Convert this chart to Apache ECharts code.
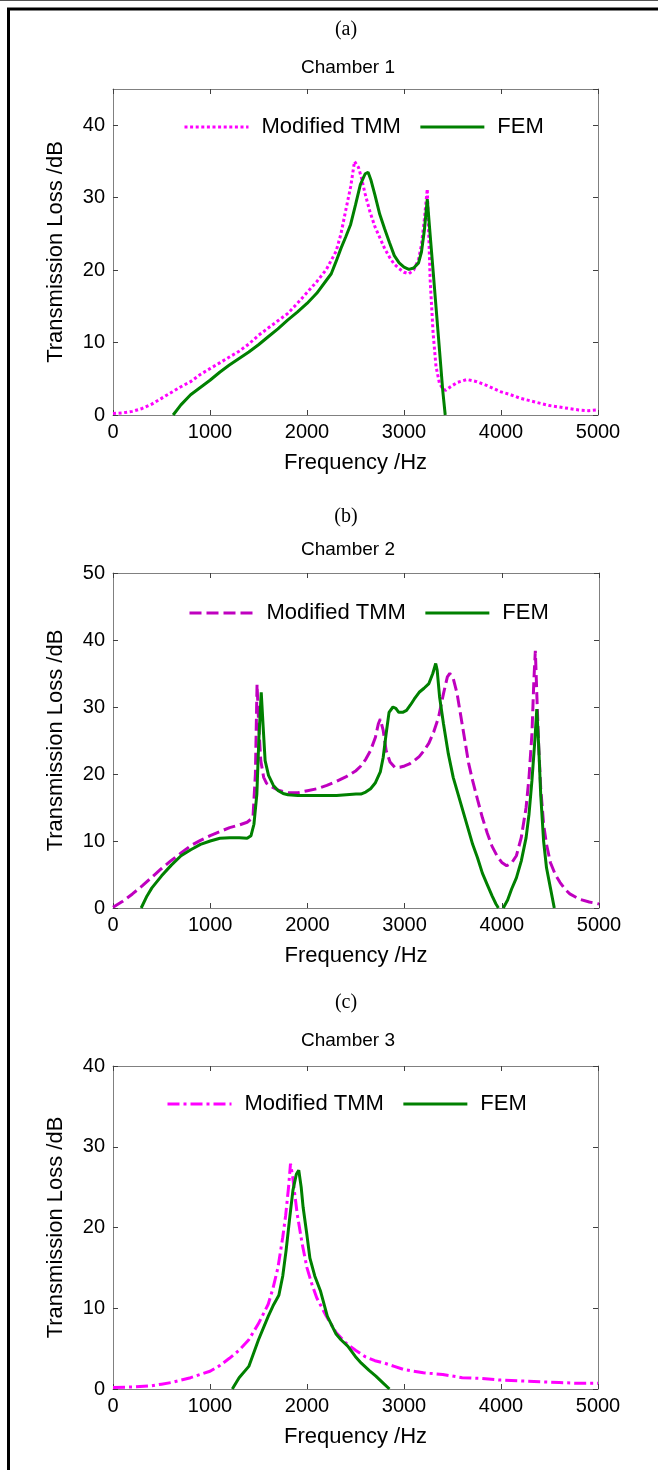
<!DOCTYPE html>
<html><head><meta charset="utf-8">
<script src="https://cdn.jsdelivr.net/npm/echarts@6/dist/echarts.min.js"></script>
<style>html,body{margin:0;padding:0;background:#fff}#c{width:658px;height:1470px}</style>
</head><body><div id="c"></div>
<script>
// ---------- DATA ----------
const xTicks = [0, 1000, 2000, 3000, 4000, 5000];
const panelLetters = ['(a)', '(b)', '(c)'];
const panelTitles = ['Chamber 1', 'Chamber 2', 'Chamber 3'];
const yMax = [45, 50, 40];

// (a) Chamber 1
const a_tmm_f = [0,100,200,300,400,500,600,700,800,900,1000,1100,1200,1300,1400,1500,1600,1700,1800,1900,2000,2100,2200,2300,2350,2400,2450,2490,2530,2560,2600,2650,2700,2750,2800,2850,2900,2950,3000,3050,3100,3150,3180,3210,3240,3255,3270,3300,3330,3365,3400,3430,3480,3550,3650,3750,3850,4000,4100,4200,4350,4500,4650,4800,4900,5000];
const a_tmm_tl = [0.2,0.3,0.5,0.9,1.5,2.3,3.1,3.9,4.6,5.6,6.4,7.2,8.0,8.8,9.8,11.0,12.0,13.0,14.0,15.4,16.9,18.4,20.1,22.6,25.0,28.3,31.5,35.0,34.2,32.8,30.5,28.0,26.0,24.5,23.0,21.8,20.8,20.2,19.7,19.5,20.0,21.5,23.5,27.0,31.2,25.0,18.6,11.3,6.7,4.4,3.6,3.4,3.9,4.5,4.9,4.6,4.1,3.2,2.8,2.3,1.8,1.3,1.0,0.7,0.6,0.7];
const a_fem_f = [620,700,800,900,1000,1100,1200,1300,1400,1500,1600,1700,1800,1900,2000,2100,2200,2250,2300,2350,2400,2450,2500,2550,2600,2630,2660,2700,2750,2800,2850,2900,2950,3000,3050,3100,3150,3180,3210,3240,3270,3300,3350,3400,3425];
const a_fem_tl = [0,1.4,2.8,3.8,4.8,5.9,6.9,7.8,8.7,9.7,10.8,11.9,13.1,14.2,15.4,16.8,18.6,19.5,21.2,23.0,24.6,26.3,29.0,31.8,33.3,33.5,32.4,30.4,27.7,25.7,23.8,22.0,21.0,20.4,20.1,20.3,21.0,22.5,25.5,29.8,24.8,19.9,11.6,3.3,0];

// (b) Chamber 2
const b_tmm_f = [0,100,200,300,400,500,600,700,800,900,1000,1100,1200,1300,1380,1440,1465,1482,1500,1520,1550,1580,1620,1700,1800,1900,2000,2100,2200,2300,2400,2500,2550,2600,2650,2700,2730,2750,2780,2810,2850,2900,2950,3000,3050,3100,3150,3200,3250,3300,3350,3400,3440,3465,3500,3540,3580,3620,3660,3700,3750,3800,3850,3900,3950,4000,4050,4100,4150,4200,4250,4280,4310,4330,4345,4360,4380,4400,4430,4460,4500,4550,4600,4650,4700,4800,4900,5000];
const b_tmm_tl = [0.1,1.0,2.1,3.3,4.6,5.9,7.1,8.2,9.3,10.1,10.8,11.4,12.0,12.4,12.8,13.5,20.0,33.4,27.0,22.0,19.5,18.6,18.2,17.6,17.2,17.2,17.5,17.8,18.3,18.9,19.6,20.5,21.2,22.2,23.5,25.5,27.5,28.2,26.5,23.5,21.8,21.0,21.0,21.2,21.5,22.0,22.6,23.5,24.6,26.3,28.5,32.0,34.5,35.0,34.3,32.0,28.5,25.0,21.5,19.0,16.2,13.5,11.2,9.2,7.8,6.8,6.3,6.7,7.8,10.5,15.0,19.5,26.0,34.0,38.4,32.0,24.0,18.0,12.5,9.5,6.8,5.0,3.8,2.8,2.1,1.3,0.9,0.6];
const b_fem_f = [290,350,400,500,600,700,800,900,1000,1100,1200,1300,1380,1420,1450,1480,1500,1525,1545,1565,1600,1650,1700,1750,1800,1900,2000,2100,2200,2300,2400,2500,2550,2600,2650,2700,2750,2780,2810,2840,2880,2910,2940,2980,3020,3060,3100,3150,3200,3250,3290,3320,3335,3360,3400,3450,3500,3550,3600,3650,3700,3750,3800,3850,3900,3940,3965,4000,4015,4060,4100,4150,4200,4250,4280,4310,4340,4360,4380,4400,4430,4460,4500,4540];
const b_fem_tl = [0,1.8,3.0,4.8,6.4,7.8,8.7,9.5,10.0,10.4,10.5,10.5,10.4,10.8,12.5,17.0,25.0,32.2,27.0,22.0,19.8,18.3,17.5,17.1,16.9,16.8,16.8,16.8,16.8,16.8,16.9,17.0,17.0,17.3,17.8,18.7,20.3,22.5,26.0,29.2,30.0,29.8,29.2,29.2,29.5,30.3,31.2,32.2,32.8,33.5,35.0,36.5,35.5,31.5,27.5,23.0,19.5,17.0,14.5,12.0,9.5,7.5,5.2,3.5,1.8,0.6,0,null,0,1.2,2.8,4.5,7.0,10.5,14.0,19.0,25.0,29.7,24.0,17.0,10.0,6.0,3.0,0];

// (c) Chamber 3
const c_tmm_f = [0,200,400,500,600,700,800,900,1000,1100,1200,1300,1400,1500,1600,1650,1700,1750,1780,1810,1830,1850,1870,1900,1950,2000,2050,2100,2200,2300,2400,2500,2600,2700,2800,2900,3000,3200,3400,3600,3800,4000,4200,4400,4600,4800,5000];
const c_tmm_tl = [0.2,0.25,0.4,0.6,0.8,1.1,1.4,1.8,2.2,2.9,3.8,4.8,6.1,8.1,10.5,12.5,15.0,18.8,21.5,25.0,27.9,26.5,24.5,21.6,18.0,15.0,13.0,11.3,9.0,7.0,5.7,4.8,4.0,3.5,3.2,2.8,2.4,2.0,1.8,1.4,1.3,1.1,1.0,0.9,0.8,0.7,0.7];
const c_fem_f = [1230,1300,1400,1500,1600,1650,1710,1750,1785,1820,1855,1890,1915,1940,1960,2000,2030,2080,2140,2210,2300,2350,2420,2500,2560,2640,2710,2780,2850];
const c_fem_tl = [0,1.4,2.8,6.1,9.0,10.3,11.6,14.0,17.2,21.0,24.6,26.6,27.1,25.0,22.5,19.0,16.2,14.0,12.1,9.0,6.8,6.1,5.3,4.0,3.2,2.3,1.6,0.8,0];

// ---------- LAYOUT ----------
const FONT = '"Liberation Sans", Arial, sans-serif';
const grids = [
  {left: 113, top: 89, width: 485, height: 326},
  {left: 113, top: 573, width: 486, height: 335},
  {left: 113, top: 1066, width: 485, height: 323}
];
const letterY = [15, 502, 988];
const titleY = [53, 535, 1026];
const legendLeft = [178, 183, 161];
const legendTop = [111, 597, 1088];
const tmmStyle = [
  {color: '#ff00ff', type: [3, 2.6]},
  {color: '#bf00bf', type: [12, 5]},
  {color: '#ff00ff', type: [12, 4, 3, 4]}
];
const FEM_COLOR = '#008000';
const sets = [
  [a_tmm_f, a_tmm_tl, a_fem_f, a_fem_tl],
  [b_tmm_f, b_tmm_tl, b_fem_f, b_fem_tl],
  [c_tmm_f, c_tmm_tl, c_fem_f, c_fem_tl]
];
const pairs = (f, v) => f.map((x, i) => [x, v[i]]);

const xAxis = [], yAxis = [], series = [], legend = [], title = [];
const tick = {show: true, inside: true, length: 5, lineStyle: {color: '#404040'}};
const line = {show: true, onZero: false, lineStyle: {color: '#808080', width: 1}};
const plain = v => String(v);
for (let i = 0; i < 3; i++) {
  const xmin = xTicks[0], xmax = xTicks[xTicks.length - 1];
  xAxis.push({type: 'value', gridIndex: i, min: xmin, max: xmax, interval: 1000, position: 'bottom',
    axisLine: line, axisTick: tick, splitLine: {show: false},
    axisLabel: {color: '#000', fontSize: 20, fontFamily: FONT, margin: 7, formatter: plain},
    name: 'Frequency /Hz', nameLocation: 'middle', nameGap: 37,
    nameTextStyle: {color: '#000', fontSize: 22, fontFamily: FONT}});
  xAxis.push({type: 'value', gridIndex: i, min: xmin, max: xmax, interval: 1000, position: 'top',
    axisLine: line, axisTick: tick, splitLine: {show: false}, axisLabel: {show: false}});
  yAxis.push({type: 'value', gridIndex: i, min: 0, max: yMax[i], interval: 10, position: 'left',
    axisLine: line, axisTick: tick, splitLine: {show: false},
    axisLabel: {color: '#000', fontSize: 20, fontFamily: FONT, margin: 8, formatter: plain, showMaxLabel: yMax[i] % 10 === 0},
    name: 'Transmission Loss /dB', nameLocation: 'middle', nameGap: 46,
    nameTextStyle: {color: '#000', fontSize: 22, fontFamily: FONT}});
  yAxis.push({type: 'value', gridIndex: i, min: 0, max: yMax[i], interval: 10, position: 'right',
    axisLine: line, axisTick: tick, splitLine: {show: false}, axisLabel: {show: false}});

  const sp = ' '.repeat(i);
  const [tf, tv, ff, fv] = sets[i];
  series.push({name: 'Modified TMM' + sp, type: 'line', xAxisIndex: 2 * i, yAxisIndex: 2 * i,
    data: pairs(tf, tv), showSymbol: false, symbol: 'none', connectNulls: false,
    lineStyle: {color: tmmStyle[i].color, width: 3, type: tmmStyle[i].type}, itemStyle: {color: tmmStyle[i].color}, z: 2});
  series.push({name: 'FEM' + sp, type: 'line', xAxisIndex: 2 * i, yAxisIndex: 2 * i,
    data: pairs(ff, fv), showSymbol: false, symbol: 'none', connectNulls: false,
    lineStyle: {color: FEM_COLOR, width: 3}, itemStyle: {color: FEM_COLOR}, z: 3});
  legend.push({left: legendLeft[i], top: legendTop[i], orient: 'horizontal',
    data: ['Modified TMM' + sp, 'FEM' + sp], itemWidth: 64, itemHeight: 14, itemGap: 18,
    formatter: n => n.trim(), selectedMode: false, lineStyle: {width: 3},
    itemStyle: {opacity: 0, borderWidth: 0},
    textStyle: {color: '#000', fontSize: 22, fontFamily: FONT, padding: [0, 0, 0, 8]}});
  title.push({text: panelLetters[i], left: 341, top: letterY[i], textAlign: 'center',
    textStyle: {fontFamily: '"Liberation Serif", "Times New Roman", serif', fontSize: 20, fontWeight: 'normal', color: '#000'}});
  title.push({text: panelTitles[i], left: 343, top: titleY[i], textAlign: 'center',
    textStyle: {fontFamily: FONT, fontSize: 19, fontWeight: 'normal', color: '#000'}});
}

const chart = echarts.init(document.getElementById('c'), null, {renderer: 'canvas'});
chart.setOption({
  animation: false,
  backgroundColor: '#fff',
  grid: grids,
  xAxis, yAxis, series, legend, title,
  graphic: [
    {type: 'line', shape: {x1: 0, y1: 0.5, x2: 658, y2: 0.5}, style: {stroke: '#555', lineWidth: 1}},
    {type: 'line', shape: {x1: 7, y1: 9, x2: 658, y2: 9}, style: {stroke: '#000', lineWidth: 3}},
    {type: 'line', shape: {x1: 8.5, y1: 8, x2: 8.5, y2: 1470}, style: {stroke: '#000', lineWidth: 3}}
  ]
});
</script></body></html>
